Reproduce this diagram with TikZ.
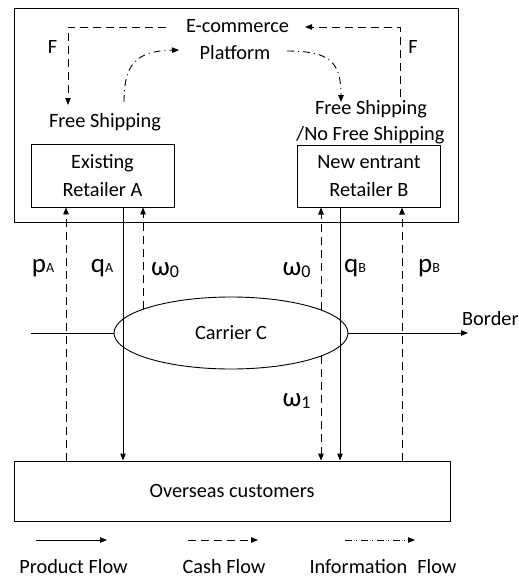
\documentclass[tikz,border=0pt]{standalone}
\usepackage{fontspec}
\setmainfont{Carlito}
\usetikzlibrary{arrows.meta,shapes.geometric}

\newcommand\diagfont{\fontsize{20.3}{28}\selectfont}
% flow labels: big letter with a small subscript
\newcommand\flowlbl[2]{{\fontsize{27}{27}\selectfont #1}{\fontsize{14}{14}\selectfont #2}}
\newcommand\omegalbl[1]{{\fontsize{27}{27}\selectfont ω}\raisebox{-2pt}{\fontsize{18}{18}\selectfont #1}}

\tikzset{
  flow/.style={line width=0.9pt, -{Triangle[length=7pt,width=5.5pt]}},
  prod/.style={flow},
  cash/.style={flow, dash pattern=on 8pt off 5pt},
  info/.style={flow, dash pattern=on 7pt off 4pt on 1pt off 4pt},
  box/.style={draw, line width=0.9pt, inner sep=0pt, align=center, font=\diagfont},
  txt/.style={inner sep=0pt, font=\diagfont},
  lbl/.style={inner sep=0pt, anchor=base},
}

\begin{document}
\begin{tikzpicture}[x=1pt,y=-1pt]
\useasboundingbox (0,0) rectangle (519,579);

% platform frame and the two retailers
\node[box, minimum width=444pt, minimum height=214pt] (frame) at (236,115) {};
\node[box, minimum width=143pt, minimum height=63pt] (retA) at (102.5,175.5) {Existing\\Retailer A};
\node[box, minimum width=143.4pt, minimum height=61.7pt] (retB) at (369,176.2) {New entrant\\Retailer B};

% customers and carrier
\node[box, minimum width=436pt, minimum height=60pt] (cust) at (232,491) {Overseas customers};
\node[draw, ellipse, line width=0.9pt, inner sep=0pt, minimum width=234pt, minimum height=72pt, font=\diagfont] (carrier) at (231,333) {Carrier C};

% platform texts
\node[txt, anchor=base] (ecom) at (237.5,32.3) {E-commerce};
\node[txt, anchor=base] (plat) at (235,59.3) {Platform};
\node[txt, anchor=base] (fsA) at (105,127.7) {Free Shipping};
\node[txt, anchor=base] (fsB) at (371,114.3) {Free Shipping};
\node[txt, anchor=base] (nfsB) at (370.5,140) {/No Free Shipping};
\node[txt, anchor=base] (fA) at (52.5,53.3) {F};
\node[txt, anchor=base] (fB) at (413,53.3) {F};
\node[txt, anchor=base west] (border) at (462,325) {Border};

% commission flows F
\coordinate (fL0) at (166,27);
\coordinate (fL1) at (68,105);
\coordinate (fR0) at (400,97);
\coordinate (fR1) at (305,27);
\draw[cash] (fL0) -| (fL1);
\draw[cash] (fR0) |- (fR1);

% shipping-policy information
\coordinate (iA0) at (124,102);
\coordinate (iA1) at (179,50);
\coordinate (iB0) at (287,51);
\coordinate (iB1) at (341,102);
\draw[info] (iA0) .. controls (124,65) and (135,51) .. (iA1);
\draw[info] (iB0) .. controls (330,51) and (341,62) .. (iB1);

% vertical flow lines
\coordinate (xpa) at (66,0);
\coordinate (xqa) at (123,0);
\coordinate (xwa) at (143,0);
\coordinate (xwb) at (321,0);
\coordinate (xqb) at (340,0);
\coordinate (xpb) at (402,0);
\coordinate (wAtop) at (143,309.3);
\coordinate (wBtop) at (321,310);
\coordinate (wBbot) at (321,356);

\draw[cash] (cust.north -| xpa) -- (retA.south -| xpa);
\draw[prod] (retA.south -| xqa) -- (cust.north -| xqa);
\draw[cash] (wAtop) -- (retA.south -| xwa);
\draw[cash] (wBtop) -- (retB.south -| xwb);
\draw[cash] (wBbot) -- (cust.north -| xwb);
\draw[prod] (retB.south -| xqb) -- (cust.north -| xqb);
\draw[cash] (cust.north -| xpb) -- (retB.south -| xpb);

% border line through the carrier
\coordinate (bL) at (31,333);
\coordinate (bR) at (468,333);
\draw[line width=0.9pt] (bL) -- (carrier.west);
\draw[prod] (carrier.east) -- (bR);

% flow labels
\node[lbl] (pA) at (43,272) {\flowlbl{p}{A}};
\node[lbl] (qA) at (102,272) {\flowlbl{q}{A}};
\node[lbl] (w0A) at (165,275) {\omegalbl{0}};
\node[lbl] (w0B) at (296.5,275) {\omegalbl{0}};
\node[lbl] (qB) at (355,272) {\flowlbl{q}{B}};
\node[lbl] (pB) at (429,272) {\flowlbl{p}{B}};
\node[lbl] (w1) at (296.5,406) {\omegalbl{1}};

% legend
\coordinate (l1a) at (36,540);
\coordinate (l1b) at (107,540);
\coordinate (l2a) at (188,540);
\coordinate (l2b) at (258,540);
\coordinate (l3a) at (345,540);
\coordinate (l3b) at (415,540);
\draw[prod] (l1a) -- (l1b);
\draw[cash] (l2a) -- (l2b);
\draw[info] (l3a) -- (l3b);
\node[txt, anchor=base] (lgP) at (73.5,573.5) {Product Flow};
\node[txt, anchor=base] (lgC) at (224,573.5) {Cash Flow};
\node[txt, anchor=base] (lgI) at (383,573.5) {Information\hspace{0.5em}Flow};
\end{tikzpicture}
\end{document}
